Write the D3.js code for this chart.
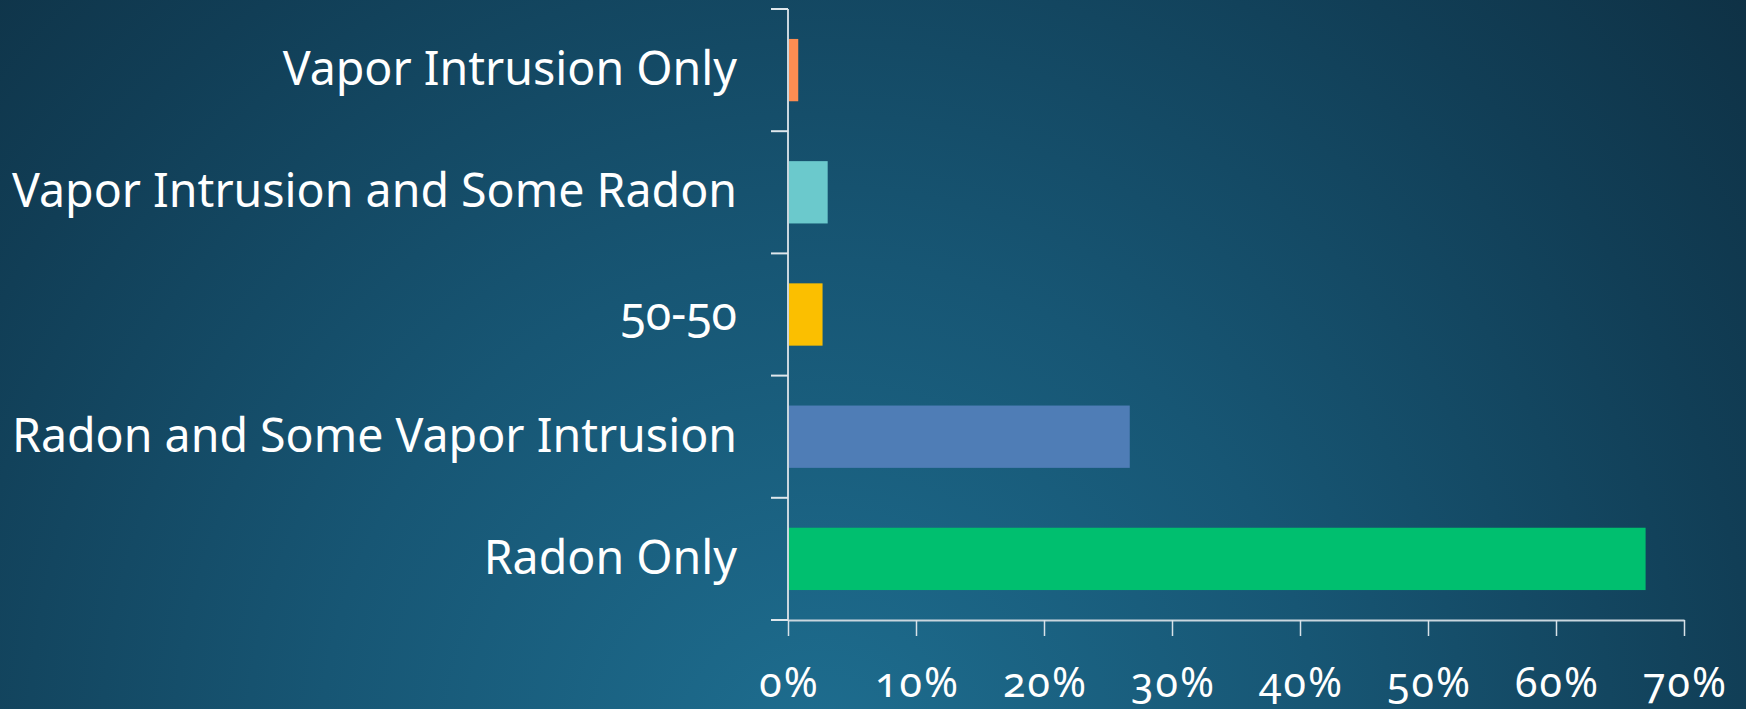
<!DOCTYPE html>
<html>
<head>
<meta charset="utf-8">
<script src="https://cdn.jsdelivr.net/npm/d3@7"></script>
<style>
  html, body { margin: 0; padding: 0; overflow: hidden; }
  body { width: 1746px; height: 709px; }
  svg text { font-family: "Noto Sans", "Open Sans", sans-serif; fill: #ffffff; font-variant-numeric: oldstyle-nums; font-feature-settings: "onum" 1; }
</style>
</head>
<body>
<svg id="chart" width="1746" height="709"></svg>
<script>
// categories top to bottom, share of responses
const categories = ["Vapor Intrusion Only", "Vapor Intrusion and Some Radon", "50-50", "Radon and Some Vapor Intrusion", "Radon Only"];
const values = [0.008, 0.031, 0.027, 0.267, 0.67];
const barColors = ["#fd8d52", "#6bc9cc", "#fbbf00", "#4f7db6", "#00bf6f"];
const xTicks = [0, 0.1, 0.2, 0.3, 0.4, 0.5, 0.6, 0.7];

const svg = d3.select("#chart"),
    width = +svg.attr("width"),
    height = +svg.attr("height");

// background gradient (dark navy edges, lighter teal toward bottom middle)
const defs = svg.append("defs");
const grad = defs.append("radialGradient")
    .attr("id", "bg")
    .attr("gradientUnits", "userSpaceOnUse")
    .attr("cx", 820).attr("cy", 760).attr("r", 1250);
grad.append("stop").attr("offset", "0%").attr("stop-color", "#1e6e90");
grad.append("stop").attr("offset", "40%").attr("stop-color", "#175674");
grad.append("stop").attr("offset", "75%").attr("stop-color", "#113e56");
grad.append("stop").attr("offset", "100%").attr("stop-color", "#0e2f42");
svg.append("rect").attr("width", width).attr("height", height).attr("fill", "url(#bg)");

const x = d3.scaleLinear().domain([0, 0.7]).range([788, 1684]);
const y = d3.scaleBand().domain(categories).range([9, 620])
    .paddingInner(0.49).paddingOuter(0.245);

// bars
svg.append("g")
    .selectAll("rect")
    .data(categories)
    .enter().append("rect")
    .attr("x", x(0))
    .attr("y", d => y(d))
    .attr("height", y.bandwidth())
    .attr("width", (d, i) => x(values[i]) - x(0))
    .attr("fill", (d, i) => barColors[i]);

// x axis
const xAxis = svg.append("g")
    .attr("transform", "translate(0,620)")
    .call(d3.axisBottom(x).tickValues(xTicks).tickSize(16).tickSizeOuter(0).tickFormat(d3.format(".0%")));
xAxis.select(".domain").attr("stroke", "#c9d6de").attr("stroke-width", 2);
xAxis.selectAll(".tick line").attr("stroke", "#d8e2e8").attr("stroke-width", 1.5);
xAxis.selectAll(".tick text")
    .attr("y", 77).attr("dy", 0)
    .attr("x", 1)
    .attr("font-size", 41)
    .attr("font-family", "Noto Sans")
    .attr("letter-spacing", 2)
    .style("fill", "#ffffff");

// y axis: line plus ticks at category boundaries
const step = y.step();
const boundaries = d3.range(categories.length + 1).map(i => y.range()[0] + i * step);
const yAxis = svg.append("g");
yAxis.append("line")
    .attr("x1", x(0)).attr("x2", x(0))
    .attr("y1", boundaries[0]).attr("y2", 620)
    .attr("stroke", "#c9d6de").attr("stroke-width", 2);
yAxis.selectAll("line.tick")
    .data(boundaries)
    .enter().append("line")
    .attr("class", "tick")
    .attr("x1", x(0) - 17).attr("x2", x(0))
    .attr("y1", d => d).attr("y2", d => d)
    .attr("stroke", "#dfe7ec").attr("stroke-width", 2);

// category labels
svg.append("g")
    .selectAll("text")
    .data(categories)
    .enter().append("text")
    .attr("x", 737)
    .attr("y", d => y(d) + y.bandwidth() / 2 + 15)
    .attr("text-anchor", "end")
    .attr("font-size", 46.5)
    .text(d => d);
</script>
</body>
</html>
